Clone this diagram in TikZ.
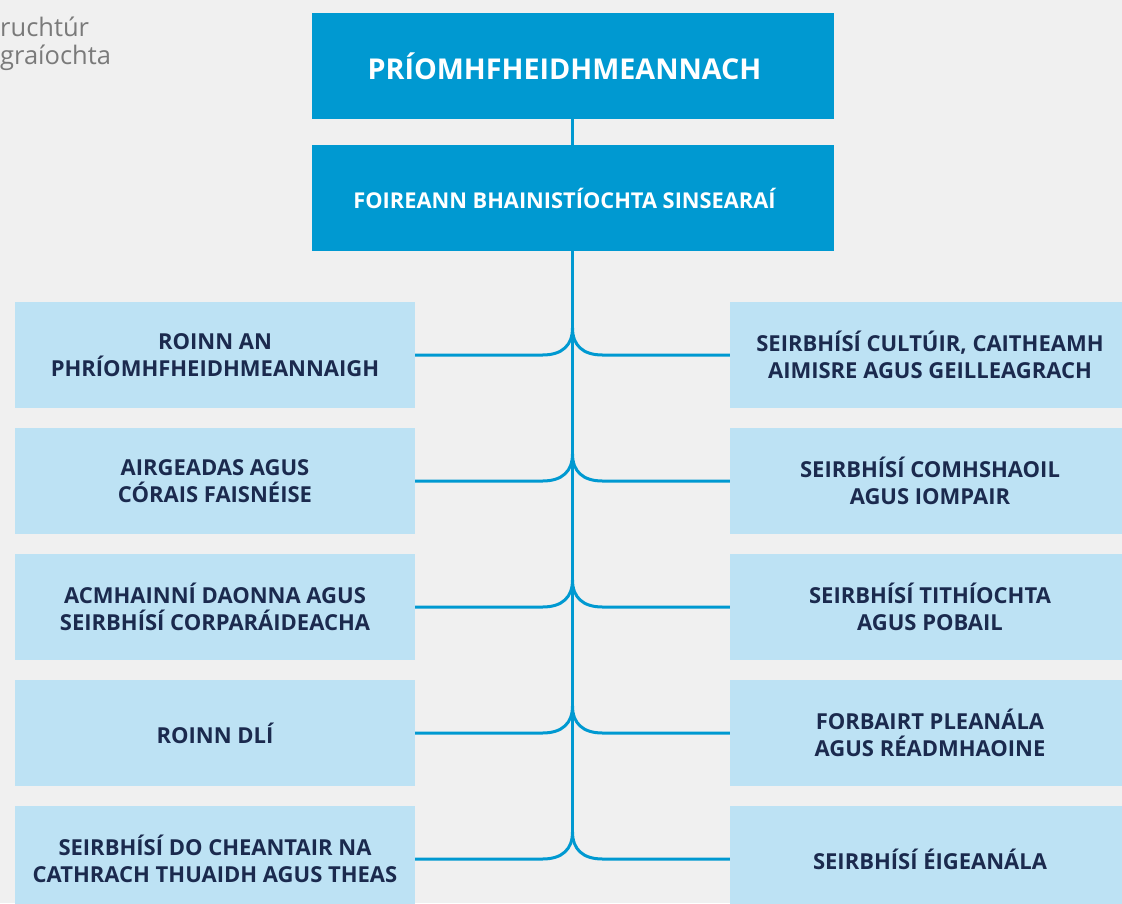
\documentclass[tikz,border=0pt]{standalone}
\usepackage{fontspec}
\setmainfont{Open Sans}
\usetikzlibrary{calc}
\definecolor{bg}{HTML}{F0F0F0}
\definecolor{mainblue}{HTML}{0099D1}
\definecolor{lightblue}{HTML}{BDE2F4}
\definecolor{navy}{HTML}{1B2A4E}
\definecolor{greytext}{HTML}{7A7A7A}
\begin{document}
\begin{tikzpicture}[x=1pt,y=-1pt,
  topbox/.style={fill=mainblue, text=white, minimum width=522pt, minimum height=106pt, inner sep=0pt, font=\bfseries},
  unitbox/.style={fill=lightblue, text=navy, minimum width=400pt, minimum height=106pt, inner sep=0pt, align=center, font=\fontsize{22}{27}\selectfont\bfseries},
  titletext/.style={anchor=base west, text=greytext, font=\fontsize{25.5}{28}\selectfont, inner sep=0pt},
  link/.style={draw=mainblue, line width=3pt}
]
\fill[bg] (0,0) rectangle (1122,903);
\useasboundingbox (0,0) rectangle (1122,903);

\node[titletext] (t1) at (0,36) {ruchtúr};
\node[titletext] (t2) at (0,64) {graíochta};

\node[topbox, font=\fontsize{28.7}{34}\selectfont\bfseries] (ceo) at (572.5,66) {PRÍOMHFHEIDHMEANNACH\hspace*{16pt}};
\node[topbox, font=\fontsize{21.8}{26}\selectfont\bfseries] (smt) at (572.5,198) {FOIREANN BHAINISTÍOCHTA SINSEARAÍ\hspace*{16pt}};

\node[unitbox] (L1) at (215,355) {ROINN AN\\PHRÍOMHFHEIDHMEANNAIGH};
\node[unitbox] (L2) at (215,481) {AIRGEADAS AGUS\\CÓRAIS FAISNÉISE};
\node[unitbox] (L3) at (215,607) {ACMHAINNÍ DAONNA AGUS\\SEIRBHÍSÍ CORPARÁIDEACHA};
\node[unitbox] (L4) at (215,733) {ROINN DLÍ};
\node[unitbox] (L5) at (215,859) {SEIRBHÍSÍ DO CHEANTAIR NA\\CATHRACH THUAIDH AGUS THEAS};

\node[unitbox] (R1) at (930,355) {SEIRBHÍSÍ CULTÚIR, CAITHEAMH\\AIMISRE AGUS GEILLEAGRACH};
\node[unitbox] (R2) at (930,481) {SEIRBHÍSÍ COMHSHAOIL\\AGUS IOMPAIR};
\node[unitbox] (R3) at (930,607) {SEIRBHÍSÍ TITHÍOCHTA\\AGUS POBAIL};
\node[unitbox] (R4) at (930,733) {FORBAIRT PLEANÁLA\\AGUS RÉADMHAOINE};
\node[unitbox] (R5) at (930,859) {SEIRBHÍSÍ ÉIGEANÁLA};

\foreach \i/\yy in {1/355,2/481,3/607,4/733,5/859} {
  \coordinate (s\i) at (572.5,\yy);
  \coordinate (top\i) at (572.5,\yy-27);
}

\draw[link] (ceo.south) -- (smt.north);
\draw[link] (smt.south) -- (top5);

\foreach \i in {1,...,5} {
  \draw[link] (L\i.east) -- ($(s\i)+(-30,0)$) .. controls ($(s\i)+(-10,0)$) and ($(s\i)+(0,-10)$) .. (top\i);
  \draw[link] (R\i.west) -- ($(s\i)+(30,0)$) .. controls ($(s\i)+(10,0)$) and ($(s\i)+(0,-10)$) .. (top\i);
}
\end{tikzpicture}
\end{document}
